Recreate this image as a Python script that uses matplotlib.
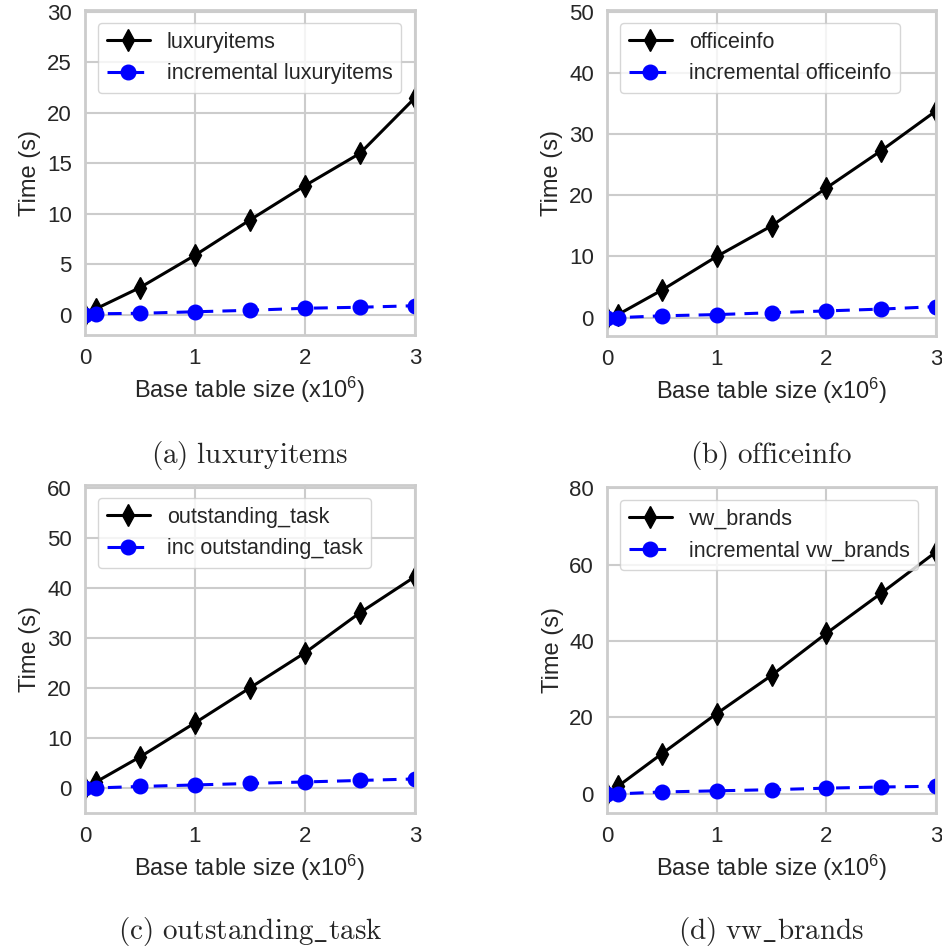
import matplotlib
matplotlib.use("Agg")
import matplotlib.pyplot as plt
import seaborn as sns

sns.set_style("whitegrid")
plt.rcParams['font.family'] = ['Liberation Sans', 'DejaVu Sans']
plt.rcParams['mathtext.fontset'] = 'custom'
plt.rcParams['mathtext.rm'] = 'Liberation Sans'
plt.rcParams['mathtext.it'] = 'Liberation Sans:italic'
plt.rcParams['axes.linewidth'] = 2.0
plt.rcParams['grid.linewidth'] = 1.5

# 数据
sizes = [0, 0.1, 0.5, 1, 1.5, 2, 2.5, 3]

luxury_full = [0, 0.6, 2.7, 5.9, 9.4, 12.8, 16.0, 21.5]
luxury_inc = [0, 0.1, 0.15, 0.3, 0.45, 0.65, 0.75, 0.9]

office_full = [0, 0.5, 4.5, 10.0, 15.0, 21.2, 27.3, 33.8]
office_inc = [0, 0.0, 0.3, 0.5, 0.8, 1.1, 1.4, 1.8]

task_full = [0, 1.2, 6.2, 13.0, 20.0, 27.0, 35.0, 42.2]
task_inc = [0, 0.0, 0.3, 0.6, 0.9, 1.2, 1.5, 1.8]

vw_full = [0, 2.0, 10.5, 21.0, 31.0, 42.0, 52.5, 63.3]
vw_inc = [0, 0.0, 0.5, 0.8, 1.1, 1.5, 1.8, 2.0]

panels = [
    ("luxuryitems", "incremental luxuryitems", r"(a)\ luxuryitems", luxury_full, luxury_inc, (-2, 30.2), 5),
    ("officeinfo", "incremental officeinfo", r"(b)\ officeinfo", office_full, office_inc, (-3, 50.3), 10),
    ("outstanding_task", "inc outstanding_task", r"(c)\ outstanding\_task", task_full, task_inc, (-5, 60.5), 10),
    ("vw_brands", "incremental vw_brands", r"(d)\ vw\_brands", vw_full, vw_inc, (-5, 80.3), 20),
]

W, H = 942, 951
boxes = [(85, 10, 415, 335), (607, 10, 936, 336), (85, 485, 415, 813), (607, 487, 936, 813)]
cap_y = [455, 455, 932, 932]

fig = plt.figure(figsize=(W / 100, H / 100), dpi=100)

for i, (lab1, lab2, cap, full, inc, ylim, step) in enumerate(panels):
    l, t, r, b = boxes[i]
    ax = fig.add_axes([l / W, 1 - b / H, (r - l) / W, (b - t) / H])
    ax.plot(sizes, full, color="black", marker="d", markersize=11, linewidth=2.2, label=lab1)
    ax.plot(sizes, inc, color="blue", marker="o", markersize=10.5, linewidth=2.2, linestyle="--",
            dashes=(4.5, 3), label=lab2)
    ax.set_xlim(0, 3)
    ax.set_ylim(*ylim)
    ax.set_xticks([0, 1, 2, 3])
    ax.set_yticks(range(0, int(ylim[1]) + 1, step))
    ax.tick_params(labelsize=16, pad=6)
    ax.set_xlabel(r"Base table size (x$10^6$)", fontsize=17)
    ax.set_ylabel("Time (s)", fontsize=17)
    ax.legend(loc="upper left", fontsize=15.5, frameon=True, handlelength=2.0,
              handletextpad=0.8, borderaxespad=0.6)
    for sp in ax.spines.values():
        sp.set_color("#cccccc")
        sp.set_linewidth(2.0)
    fig.text((l + r) / 2 / W, 1 - cap_y[i] / H, r"$\mathrm{" + cap + "}$", ha="center", va="center",
             fontsize=21, math_fontfamily="cm")

fig.savefig("out.png", dpi=100)
